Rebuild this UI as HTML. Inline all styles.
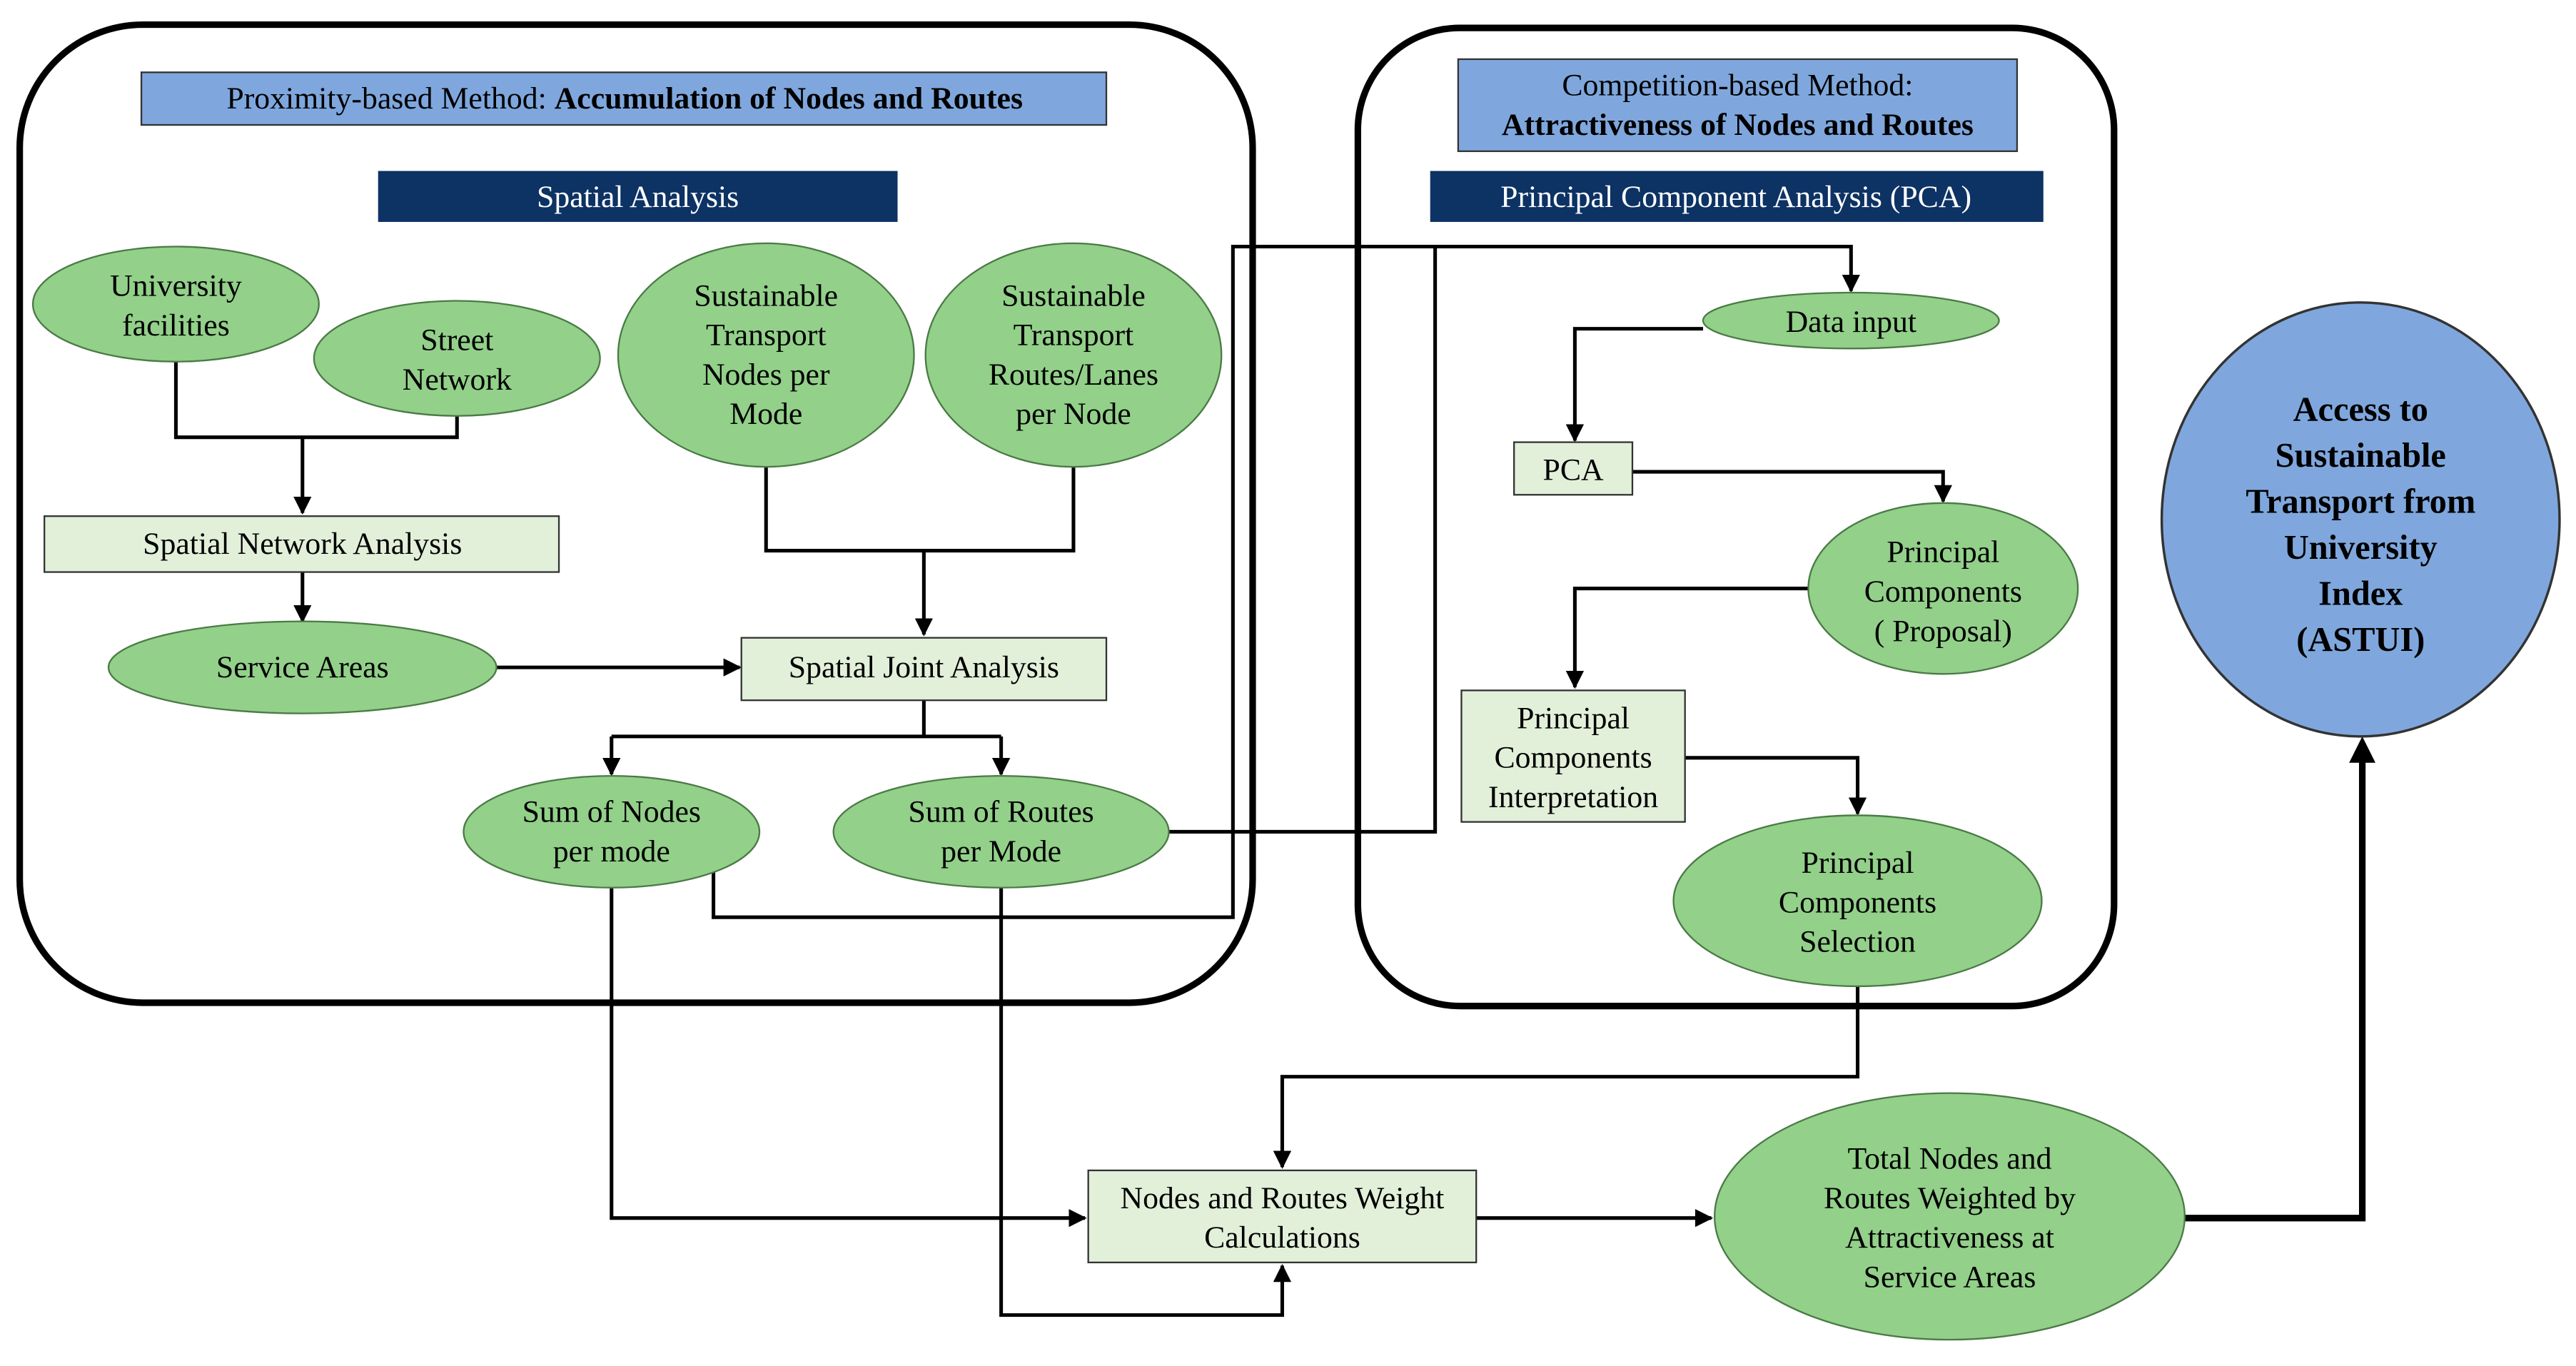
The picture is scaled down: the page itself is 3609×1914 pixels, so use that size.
<!DOCTYPE html>
<html><head><meta charset="utf-8"><style>html,body{margin:0;padding:0;background:#fff}svg{display:block}</style></head><body>
<svg width="3609" height="1914" viewBox="0 0 1567 831" preserveAspectRatio="none" xmlns="http://www.w3.org/2000/svg" font-family="Liberation Serif, serif">
<defs><marker id="a" viewBox="0 0 10 10" refX="9" refY="5" markerWidth="5" markerHeight="5" orient="auto"><path d="M0,0L10,5L0,10z" fill="#000"/></marker></defs>
<rect x="12" y="15" width="750" height="595" rx="75" fill="none" stroke="#000" stroke-width="4"/>
<rect x="826" y="17" width="460" height="595" rx="62" fill="none" stroke="#000" stroke-width="4"/>
<rect x="86" y="44" width="587" height="32" fill="#7fa7dd" stroke="#333"/>
<text x="380" y="66" font-size="19" text-anchor="middle">Proximity-based Method: <tspan font-weight="bold">Accumulation of Nodes and Routes</tspan></text>
<rect x="230" y="104" width="316" height="31" fill="#0d3264"/>
<text x="388" y="126" font-size="19" fill="#fff" text-anchor="middle">Spatial Analysis</text>
<rect x="887" y="36" width="340" height="56" fill="#7fa7dd" stroke="#333"/>
<text x="1057" y="58" font-size="19" text-anchor="middle">Competition-based Method:</text>
<text x="1057" y="82" font-size="19" font-weight="bold" text-anchor="middle">Attractiveness of Nodes and Routes</text>
<rect x="870" y="104" width="373" height="31" fill="#0d3264"/>
<text x="1056" y="126" font-size="19" fill="#fff" text-anchor="middle">Principal Component Analysis (PCA)</text>
<g fill="none" stroke="#000" stroke-width="2.2">
<path d="M107,220V266H278V253"/><path d="M184,266V312" marker-end="url(#a)"/>
<path d="M184,348V378" marker-end="url(#a)"/>
<path d="M302,406H450" marker-end="url(#a)"/>
<path d="M466,284V335H653V284"/><path d="M562,335V386" marker-end="url(#a)"/>
<path d="M562,426V448M372,448H609"/><path d="M372,448V471" marker-end="url(#a)"/><path d="M609,448V471" marker-end="url(#a)"/>
<path d="M434,530V558H750V150H1126V177" marker-end="url(#a)"/>
<path d="M711,506H873V150"/>
<path d="M1036,200H958V268" marker-end="url(#a)"/>
<path d="M993,287H1182V305" marker-end="url(#a)"/>
<path d="M1100,358H958V418" marker-end="url(#a)"/>
<path d="M1025,461H1130V495" marker-end="url(#a)"/>
<path d="M1130,600V655H780V710" marker-end="url(#a)"/>
<path d="M372,540V741H660" marker-end="url(#a)"/>
<path d="M609,540V800H780V770" marker-end="url(#a)"/>
<path d="M898,741H1041" marker-end="url(#a)"/>
</g>
<path d="M1329,741H1437V462" fill="none" stroke="#000" stroke-width="4"/><path d="M1429,464L1437,448L1445,464z" fill="#000"/>
<g fill="#93d08a" stroke="#4a7a45" stroke-width="1">
<ellipse cx="107" cy="185" rx="87" ry="35"/><ellipse cx="278" cy="218" rx="87" ry="35"/>
<ellipse cx="466" cy="216" rx="90" ry="68"/><ellipse cx="653" cy="216" rx="90" ry="68"/>
<ellipse cx="184" cy="406" rx="118" ry="28"/><ellipse cx="372" cy="506" rx="90" ry="34"/><ellipse cx="609" cy="506" rx="102" ry="34"/>
<ellipse cx="1126" cy="195" rx="90" ry="17"/><ellipse cx="1182" cy="358" rx="82" ry="52"/><ellipse cx="1130" cy="548" rx="112" ry="52"/>
<ellipse cx="1186" cy="740" rx="143" ry="75"/>
</g>
<g fill="#e2f0da" stroke="#333" stroke-width="1">
<rect x="27" y="314" width="313" height="34"/><rect x="451" y="388" width="222" height="38"/>
<rect x="921" y="269" width="72" height="32"/><rect x="889" y="420" width="136" height="80"/><rect x="662" y="712" width="236" height="56"/>
</g>
<ellipse cx="1436" cy="316" rx="121" ry="132" fill="#7fa7dd" stroke="#333" stroke-width="1.5"/>
<g font-size="19" text-anchor="middle">
<text x="107" y="180">University</text><text x="107" y="204">facilities</text>
<text x="278" y="213">Street</text><text x="278" y="237">Network</text>
<text x="466" y="186">Sustainable</text><text x="466" y="210">Transport</text><text x="466" y="234">Nodes per</text><text x="466" y="258">Mode</text>
<text x="653" y="186">Sustainable</text><text x="653" y="210">Transport</text><text x="653" y="234">Routes/Lanes</text><text x="653" y="258">per Node</text>
<text x="184" y="337">Spatial Network Analysis</text>
<text x="184" y="412">Service Areas</text>
<text x="562" y="412">Spatial Joint Analysis</text>
<text x="372" y="500">Sum of Nodes</text><text x="372" y="524">per mode</text>
<text x="609" y="500">Sum of Routes</text><text x="609" y="524">per Mode</text>
<text x="1126" y="202">Data input</text>
<text x="957" y="292">PCA</text>
<text x="1182" y="342">Principal</text><text x="1182" y="366">Components</text><text x="1182" y="390">( Proposal)</text>
<text x="957" y="443">Principal</text><text x="957" y="467">Components</text><text x="957" y="491">Interpretation</text>
<text x="1130" y="531">Principal</text><text x="1130" y="555">Components</text><text x="1130" y="579">Selection</text>
<text x="780" y="735">Nodes and Routes Weight</text><text x="780" y="759">Calculations</text>
<text x="1186" y="711">Total Nodes and</text><text x="1186" y="735">Routes Weighted by</text><text x="1186" y="759">Attractiveness at</text><text x="1186" y="783">Service Areas</text>
</g>
<g font-size="21" font-weight="bold" text-anchor="middle">
<text x="1436" y="256">Access to</text><text x="1436" y="284">Sustainable</text><text x="1436" y="312">Transport from</text><text x="1436" y="340">University</text><text x="1436" y="368">Index</text><text x="1436" y="396">(ASTUI)</text>
</g>
</svg>
</body></html>
